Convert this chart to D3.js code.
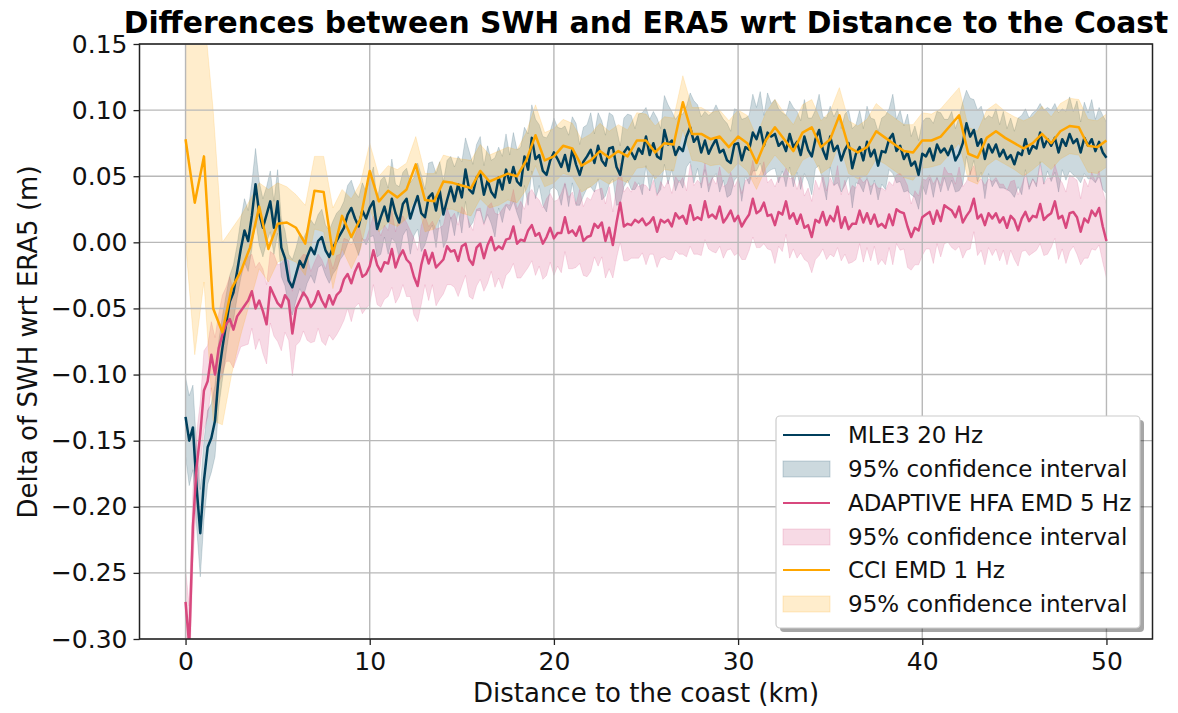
<!DOCTYPE html>
<html><head><meta charset="utf-8">
<script src="https://cdn.jsdelivr.net/npm/d3@7"></script>
<style>
html,body{margin:0;padding:0;background:#fff;}
svg{display:block;font-family:"DejaVu Sans",sans-serif;}
</style></head>
<body><svg id="chart" width="1178" height="713"></svg>
<script>
// ---------------- DATA ----------------
const seriesNames = ["MLE3 20 Hz", "ADAPTIVE HFA EMD 5 Hz", "CCI EMD 1 Hz"];
const ciLabel = "95% confidence interval";
const xTickValues = [0, 10, 20, 30, 40, 50];
const yTickValues = [-0.30, -0.25, -0.20, -0.15, -0.10, -0.05, 0.00, 0.05, 0.10, 0.15];

// distance to coast (km): fine grid every 0.2 km, coarse grid every 0.5 km
const distFine = d3.range(251).map(i => +(i * 0.2).toFixed(1));
const distCoarse = d3.range(101).map(i => i * 0.5);

// MLE3 20 Hz mean difference (m), every 0.2 km
const mle3Mean = [
-0.132,-0.150,-0.140,-0.185,-0.220,-0.180,-0.155,-0.148,-0.135,-0.100,
-0.080,-0.062,-0.045,-0.038,-0.022,-0.005,0.009,0.001,0.020,0.044,
0.022,0.011,0.021,0.031,0.011,0.031,-0.004,-0.012,-0.029,-0.034,
-0.024,-0.014,-0.019,-0.011,-0.004,-0.009,0.001,0.004,-0.006,-0.011,
-0.004,0.001,0.006,0.011,0.021,0.026,0.018,0.012,0.024,0.018,
0.026,0.031,0.010,0.019,0.027,0.016,0.033,0.022,0.015,0.029,
0.033,0.018,0.027,0.035,0.022,0.019,0.034,0.037,0.024,0.039,
0.021,0.032,0.042,0.031,0.044,0.034,0.055,0.040,0.037,0.049,
0.052,0.036,0.047,0.038,0.034,0.049,0.040,0.055,0.045,0.057,
0.046,0.043,0.065,0.055,0.079,0.063,0.066,0.054,0.051,0.062,
0.068,0.063,0.057,0.066,0.054,0.070,0.059,0.051,0.061,0.065,
0.070,0.060,0.073,0.062,0.058,0.071,0.072,0.057,0.051,0.068,
0.072,0.068,0.063,0.071,0.067,0.080,0.066,0.075,0.065,0.063,
0.085,0.074,0.077,0.066,0.072,0.069,0.080,0.087,0.076,0.080,
0.068,0.077,0.067,0.073,0.078,0.068,0.070,0.062,0.060,0.074,
0.075,0.062,0.072,0.070,0.083,0.078,0.087,0.073,0.083,0.080,
0.082,0.073,0.076,0.069,0.082,0.072,0.076,0.066,0.080,0.070,
0.065,0.078,0.085,0.070,0.063,0.080,0.069,0.073,0.062,0.070,
0.075,0.056,0.067,0.072,0.062,0.076,0.065,0.070,0.058,0.069,
0.068,0.078,0.082,0.069,0.073,0.063,0.068,0.058,0.061,0.051,
0.067,0.065,0.071,0.062,0.074,0.068,0.071,0.066,0.073,0.062,
0.067,0.075,0.090,0.080,0.085,0.073,0.078,0.063,0.074,0.068,
0.074,0.065,0.070,0.063,0.066,0.059,0.068,0.066,0.078,0.067,
0.073,0.071,0.083,0.072,0.078,0.073,0.079,0.068,0.078,0.073,
0.082,0.075,0.078,0.068,0.079,0.073,0.078,0.069,0.076,0.068,
0.064];
// MLE3 95% CI half-width (m)
const mle3Half = [
0.030,0.034,0.032,0.030,0.033,0.030,0.028,0.026,0.027,0.025,
0.024,0.022,0.020,0.021,0.020,0.022,0.024,0.023,0.025,0.027,
0.024,0.022,0.021,0.023,0.020,0.024,0.022,0.021,0.020,0.021,
0.020,0.021,0.022,0.020,0.021,0.022,0.020,0.021,0.019,0.020,
0.020,0.021,0.019,0.020,0.022,0.021,0.020,0.022,0.021,0.020,
0.022,0.026,0.021,0.028,0.023,0.025,0.030,0.022,0.027,0.024,
0.023,0.027,0.022,0.025,0.029,0.021,0.026,0.024,0.028,0.022,
0.025,0.030,0.023,0.026,0.021,0.027,0.024,0.029,0.022,0.025,
0.028,0.022,0.026,0.024,0.030,0.023,0.025,0.027,0.021,0.026,
0.024,0.029,0.022,0.027,0.025,0.030,0.023,0.026,0.028,0.022,
0.026,0.024,0.029,0.022,0.027,0.025,0.031,0.023,0.026,0.024,
0.028,0.022,0.025,0.030,0.023,0.027,0.024,0.029,0.022,0.026,
0.025,0.028,0.023,0.026,0.031,0.022,0.027,0.024,0.029,0.023,
0.026,0.030,0.022,0.027,0.025,0.028,0.023,0.026,0.031,0.024,
0.027,0.022,0.029,0.025,0.026,0.030,0.023,0.028,0.024,0.027,
0.025,0.031,0.022,0.026,0.029,0.024,0.027,0.023,0.030,0.025,
0.026,0.028,0.022,0.027,0.025,0.030,0.023,0.026,0.028,0.024,
0.029,0.022,0.027,0.025,0.031,0.023,0.026,0.028,0.024,0.027,
0.025,0.030,0.022,0.028,0.024,0.027,0.029,0.023,0.026,0.025,
0.028,0.023,0.030,0.024,0.027,0.025,0.029,0.022,0.027,0.026,
0.024,0.029,0.023,0.028,0.025,0.030,0.022,0.027,0.026,0.024,
0.028,0.031,0.025,0.029,0.023,0.027,0.025,0.030,0.022,0.026,
0.027,0.024,0.029,0.023,0.028,0.025,0.026,0.030,0.023,0.027,
0.025,0.029,0.022,0.028,0.024,0.027,0.026,0.030,0.023,0.026,
0.028,0.024,0.029,0.023,0.027,0.025,0.030,0.024,0.026,0.028,
0.027];

// ADAPTIVE HFA EMD 5 Hz mean difference (m), every 0.2 km
const adaptiveMean = [
-0.272,-0.305,-0.215,-0.170,-0.145,-0.112,-0.105,-0.085,-0.100,-0.080,
-0.070,-0.062,-0.058,-0.066,-0.056,-0.052,-0.048,-0.044,-0.037,-0.050,
-0.044,-0.052,-0.062,-0.034,-0.040,-0.046,-0.049,-0.040,-0.044,-0.069,
-0.050,-0.044,-0.038,-0.042,-0.049,-0.045,-0.037,-0.044,-0.049,-0.040,
-0.047,-0.040,-0.037,-0.028,-0.024,-0.031,-0.022,-0.016,-0.026,-0.024,
-0.018,-0.006,-0.017,-0.022,-0.015,-0.016,-0.005,-0.019,-0.011,-0.006,
-0.013,-0.016,-0.026,-0.033,-0.017,-0.006,-0.016,-0.008,-0.019,-0.016,
-0.013,-0.003,-0.007,-0.006,-0.014,-0.003,-0.001,-0.013,-0.017,-0.004,
-0.001,-0.012,-0.002,0.004,-0.006,-0.003,-0.005,0.002,0.003,0.012,
-0.001,0.002,0.001,0.009,0.013,0.005,0.007,-0.001,0.004,0.011,
0.003,0.007,0.007,0.019,0.007,0.009,0.005,0.012,0.001,0.004,
0.005,0.014,0.011,0.015,0.001,0.011,-0.002,0.015,0.030,0.012,
0.014,0.013,0.017,0.015,0.018,0.013,0.015,0.019,0.008,0.017,
0.015,0.017,0.012,0.022,0.018,0.020,0.014,0.028,0.017,0.019,
0.017,0.031,0.019,0.021,0.018,0.027,0.015,0.019,0.024,0.016,
0.020,0.012,0.017,0.021,0.033,0.022,0.024,0.030,0.020,0.021,
0.013,0.023,0.021,0.031,0.018,0.022,0.014,0.021,0.011,0.013,
0.004,0.017,0.015,0.023,0.013,0.020,0.016,0.027,0.011,0.019,
0.010,0.014,0.014,0.024,0.015,0.022,0.014,0.021,0.012,0.014,
0.011,0.021,0.013,0.025,0.023,0.022,0.012,0.004,0.011,0.009,
0.019,0.021,0.023,0.014,0.024,0.016,0.028,0.026,0.024,0.019,
0.027,0.015,0.020,0.024,0.033,0.018,0.021,0.013,0.022,0.018,
0.022,0.015,0.019,0.011,0.020,0.017,0.009,0.018,0.023,0.016,
0.020,0.019,0.029,0.017,0.020,0.022,0.031,0.018,0.020,0.011,
0.022,0.023,0.019,0.008,0.018,0.015,0.024,0.020,0.026,0.012,
0.001];
// ADAPTIVE 95% CI half-width (m)
const adaptiveHalf = [
0.025,0.030,0.028,0.026,0.024,0.030,0.027,0.025,0.028,0.026,
0.030,0.028,0.032,0.029,0.031,0.027,0.030,0.033,0.028,0.031,
0.029,0.032,0.030,0.027,0.031,0.029,0.033,0.028,0.030,0.032,
0.028,0.031,0.029,0.032,0.027,0.030,0.028,0.031,0.029,0.030,
0.027,0.030,0.028,0.031,0.026,0.029,0.027,0.030,0.028,0.026,
0.029,0.026,0.030,0.027,0.028,0.025,0.029,0.027,0.030,0.026,
0.028,0.025,0.029,0.027,0.030,0.026,0.028,0.024,0.029,0.027,
0.026,0.029,0.025,0.028,0.027,0.030,0.024,0.028,0.026,0.029,
0.027,0.025,0.029,0.026,0.028,0.024,0.030,0.027,0.025,0.028,
0.026,0.029,0.024,0.028,0.027,0.030,0.025,0.027,0.029,0.026,
0.028,0.025,0.030,0.026,0.027,0.029,0.024,0.028,0.026,0.030,
0.027,0.025,0.029,0.026,0.028,0.031,0.025,0.027,0.030,0.026,
0.028,0.025,0.029,0.027,0.026,0.030,0.024,0.028,0.027,0.029,
0.026,0.030,0.025,0.028,0.027,0.029,0.025,0.031,0.026,0.028,
0.027,0.029,0.024,0.028,0.026,0.030,0.027,0.025,0.029,0.026,
0.028,0.025,0.030,0.027,0.029,0.026,0.028,0.031,0.025,0.027,
0.029,0.026,0.028,0.025,0.030,0.027,0.026,0.029,0.024,0.028,
0.027,0.030,0.025,0.028,0.026,0.029,0.027,0.031,0.025,0.028,
0.026,0.029,0.027,0.025,0.030,0.026,0.028,0.024,0.029,0.027,
0.028,0.025,0.030,0.026,0.029,0.027,0.031,0.025,0.028,0.026,
0.029,0.026,0.028,0.030,0.025,0.027,0.029,0.026,0.028,0.025,
0.030,0.027,0.026,0.029,0.025,0.028,0.027,0.030,0.026,0.028,
0.027,0.029,0.025,0.028,0.026,0.030,0.027,0.025,0.029,0.026,
0.028,0.025,0.030,0.027,0.029,0.026,0.028,0.031,0.025,0.027,
0.029,0.026,0.028,0.025,0.030,0.027,0.029,0.026,0.028,0.027,
0.028];

// CCI EMD 1 Hz mean difference (m), every 0.5 km
const cciMean = [
0.078,0.030,0.065,-0.050,-0.068,-0.035,-0.022,-0.004,0.027,-0.005,
0.014,0.015,0.011,-0.001,0.039,0.038,-0.009,0.020,0.004,0.018,
0.054,0.031,0.039,0.034,0.040,0.059,0.032,0.031,0.046,0.045,
0.043,0.041,0.054,0.046,0.049,0.052,0.050,0.062,0.081,0.062,
0.065,0.073,0.071,0.058,0.062,0.069,0.064,0.069,0.065,0.077,
0.077,0.068,0.075,0.074,0.106,0.082,0.082,0.078,0.080,0.072,
0.080,0.075,0.060,0.077,0.087,0.078,0.069,0.083,0.087,0.072,
0.078,0.096,0.072,0.068,0.072,0.084,0.079,0.074,0.069,0.068,
0.077,0.077,0.080,0.088,0.096,0.067,0.064,0.079,0.084,0.079,
0.075,0.071,0.075,0.082,0.075,0.084,0.088,0.087,0.073,0.072,
0.077];
// CCI 95% CI lower / upper bounds (m)
const cciLower = [
0.000,-0.085,-0.030,-0.135,-0.138,-0.100,-0.070,-0.045,-0.020,-0.030,
-0.015,-0.012,-0.015,-0.025,0.010,0.008,-0.035,-0.005,-0.020,-0.005,
0.025,0.008,0.015,0.012,0.018,0.035,0.008,0.010,0.025,0.025,
0.022,0.020,0.033,0.026,0.028,0.032,0.030,0.040,0.058,0.042,
0.045,0.052,0.050,0.038,0.042,0.048,0.044,0.048,0.045,0.056,
0.057,0.048,0.055,0.054,0.085,0.062,0.061,0.058,0.059,0.052,
0.060,0.054,0.040,0.056,0.066,0.058,0.049,0.062,0.066,0.052,
0.057,0.075,0.052,0.048,0.051,0.063,0.059,0.054,0.049,0.047,
0.056,0.057,0.059,0.067,0.075,0.047,0.044,0.058,0.063,0.059,
0.055,0.050,0.055,0.061,0.055,0.063,0.067,0.066,0.053,0.052,
0.057];
const cciUpper = [
0.175,0.190,0.175,0.100,0.000,0.010,0.020,0.032,0.045,0.040,
0.045,0.042,0.036,0.028,0.065,0.065,0.026,0.040,0.033,0.045,
0.075,0.050,0.058,0.055,0.060,0.080,0.052,0.052,0.066,0.064,
0.063,0.062,0.074,0.066,0.069,0.072,0.070,0.083,0.104,0.083,
0.086,0.093,0.090,0.078,0.082,0.090,0.084,0.089,0.085,0.098,
0.097,0.088,0.095,0.094,0.126,0.102,0.102,0.098,0.100,0.092,
0.100,0.096,0.080,0.098,0.108,0.098,0.089,0.104,0.108,0.092,
0.099,0.117,0.092,0.088,0.093,0.105,0.099,0.094,0.089,0.089,
0.098,0.097,0.101,0.109,0.117,0.087,0.084,0.100,0.105,0.099,
0.095,0.092,0.095,0.103,0.095,0.105,0.109,0.108,0.093,0.092,
0.097];

const colors = ["#003f5c", "#d8487e", "#ffa600"];

// ---------------- CHART ----------------
const svg = d3.select("#chart");
const plot = {left: 139.5, right: 1152.5, top: 44, bottom: 639};
const x = d3.scaleLinear().domain([-2.5, 52.5]).range([plot.left, plot.right]);
const y = d3.scaleLinear().domain([-0.30, 0.15]).range([plot.bottom, plot.top]);

svg.append("defs").append("clipPath").attr("id", "clip")
  .append("rect").attr("x", plot.left).attr("y", plot.top)
  .attr("width", plot.right - plot.left).attr("height", plot.bottom - plot.top);

const series = [
  {dist: distFine, mean: mle3Mean, lo: mle3Mean.map((v,i)=>v - mle3Half[i]), hi: mle3Mean.map((v,i)=>v + mle3Half[i]), color: colors[0]},
  {dist: distFine, mean: adaptiveMean, lo: adaptiveMean.map((v,i)=>v - adaptiveHalf[i]), hi: adaptiveMean.map((v,i)=>v + adaptiveHalf[i]), color: colors[1]},
  {dist: distCoarse, mean: cciMean, lo: cciLower, hi: cciUpper, color: colors[2]}
];

const dataG = svg.append("g").attr("clip-path", "url(#clip)");

// confidence bands (below grid)
series.forEach(s => {
  const area = d3.area()
    .x((d, i) => x(s.dist[i]))
    .y0((d, i) => y(s.lo[i]))
    .y1((d, i) => y(s.hi[i]));
  dataG.append("path").datum(s.mean).attr("d", area)
    .attr("fill", s.color).attr("fill-opacity", 0.2)
    .attr("stroke", s.color).attr("stroke-opacity", 0.2).attr("stroke-width", 0.8);
});

// grid
const gridG = svg.append("g");
xTickValues.forEach(t => {
  gridG.append("line").attr("x1", x(t)).attr("x2", x(t)).attr("y1", plot.top).attr("y2", plot.bottom)
    .attr("stroke", "#b8b8b8").attr("stroke-width", 1.4);
});
yTickValues.forEach(t => {
  gridG.append("line").attr("x1", plot.left).attr("x2", plot.right).attr("y1", y(t)).attr("y2", y(t))
    .attr("stroke", "#b8b8b8").attr("stroke-width", 1.4);
});

// mean lines
const linesG = svg.append("g").attr("clip-path", "url(#clip)");
series.forEach(s => {
  const line = d3.line().x((d, i) => x(s.dist[i])).y(d => y(d));
  linesG.append("path").datum(s.mean).attr("d", line)
    .attr("fill", "none").attr("stroke", s.color).attr("stroke-width", 2.5)
    .attr("stroke-linejoin", "round").attr("stroke-linecap", "butt");
});

// axes
const xAxis = d3.axisBottom(x).tickValues(xTickValues).tickSize(6).tickPadding(7).tickFormat(d3.format("d"));
const yAxis = d3.axisLeft(y).tickValues(yTickValues).tickSize(6).tickPadding(6)
  .tickFormat(d => d3.format(".2f")(d).replace("-", "\u2212"));
const gx = svg.append("g").attr("transform", `translate(0,${plot.bottom})`).call(xAxis);
const gy = svg.append("g").attr("transform", `translate(${plot.left},0)`).call(yAxis);
[gx, gy].forEach(g => {
  g.select(".domain").remove();
  g.selectAll(".tick line").attr("stroke", "#222").attr("stroke-width", 1.3);
  g.selectAll(".tick text").attr("font-family", "DejaVu Sans").attr("font-size", 25).attr("fill", "#111");
});

// spines
svg.append("rect").attr("x", plot.left).attr("y", plot.top)
  .attr("width", plot.right - plot.left).attr("height", plot.bottom - plot.top)
  .attr("fill", "none").attr("stroke", "#222").attr("stroke-width", 1.5);

// title
const title = svg.append("text").attr("x", (plot.left + plot.right) / 2).attr("y", 33)
  .attr("text-anchor", "middle").attr("font-weight", "bold").attr("font-size", 25)
  .attr("fill", "#000").text("Differences between SWH and ERA5 wrt Distance to the Coast");
const tl = title.node().getComputedTextLength();
title.attr("font-size", 25 * 1045 / tl);

// axis labels
svg.append("text").attr("x", (plot.left + plot.right) / 2).attr("y", 702)
  .attr("text-anchor", "middle").attr("font-size", 26).attr("fill", "#111")
  .text("Distance to the coast (km)");
svg.append("text").attr("transform", "translate(37,342) rotate(-90)")
  .attr("text-anchor", "middle").attr("font-size", 26).attr("fill", "#111")
  .text("Delta of SWH wrt ERA5 (m)");

// legend
const lg = svg.append("g");
const lb = {x: 776, y: 416, w: 364, h: 212};
lg.append("rect").attr("x", lb.x + 4).attr("y", lb.y + 4).attr("width", lb.w).attr("height", lb.h)
  .attr("rx", 4).attr("fill", "#000").attr("fill-opacity", 0.35);
lg.append("rect").attr("x", lb.x).attr("y", lb.y).attr("width", lb.w).attr("height", lb.h)
  .attr("rx", 4).attr("fill", "#fff").attr("stroke", "#cccccc").attr("stroke-width", 1.2);
const rowY = [435, 469, 503, 537, 570, 604];
series.forEach((s, k) => {
  const yl = rowY[2 * k], yp = rowY[2 * k + 1];
  lg.append("line").attr("x1", 783).attr("x2", 830).attr("y1", yl).attr("y2", yl)
    .attr("stroke", s.color).attr("stroke-width", 2.1);
  lg.append("text").attr("x", 848).attr("y", yl).attr("dy", "0.35em").attr("font-size", 23)
    .attr("fill", "#111").text(seriesNames[k]);
  lg.append("rect").attr("x", 783).attr("y", yp - 8).attr("width", 47).attr("height", 16)
    .attr("fill", s.color).attr("fill-opacity", 0.2).attr("stroke", s.color).attr("stroke-opacity", 0.2);
  lg.append("text").attr("x", 848).attr("y", yp).attr("dy", "0.35em").attr("font-size", 23)
    .attr("fill", "#111").text(ciLabel);
});
</script>
</body></html>
